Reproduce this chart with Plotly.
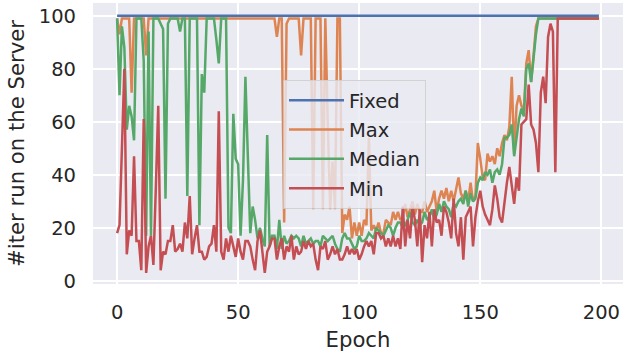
import plotly.graph_objects as go

epochs = list(range(200))

fixed_vals = [100] * 200

max_vals = (
    [99, 93, 99, 99, 99, 99, 71, 99, 99, 99,
     99, 99, 85] + [99] * 53 +            # 0..65
    [92, 99, 99, 22, 97, 99, 99, 99, 99, 99,   # 66..75
     85, 99, 99, 99, 99, 27, 99, 99, 99, 27,   # 76..85
     99, 60, 27, 45, 27, 99, 99, 18, 25,       # 86..94
     23, 28, 16, 22, 17, 22, 17, 23, 21, 54,   # 95..104
     19, 21, 19, 22, 18, 18, 23, 22, 21, 26,   # 105..114
     23, 26, 23, 24, 29, 24, 27, 30, 25, 29,   # 115..124
     26, 26, 30, 26, 28, 30, 34, 26, 31, 34,   # 125..134
     31, 35, 30, 34,                           # 135..138
     30, 35, 39, 33, 31, 34, 30, 37, 30, 32,   # 139..148
     52, 46, 39, 38, 48, 45, 47, 44, 50, 47,   # 149..158
     52, 55, 53, 58, 77, 48, 66, 70, 66, 64,   # 159..168
     82, 87, 75, 85, 96] + [99] * 26           # 169..199
)

median_vals = [
    99, 70, 96, 88, 57, 66, 62, 53, 99, 99,
    99, 83, 17, 94, 17, 99, 99, 99, 97, 95,
    31, 97, 99, 99, 99, 99, 94, 99, 99, 32,
    99, 99, 99, 99, 21, 78, 71, 99, 99, 99,
    99, 91, 82, 99, 99, 99, 20, 18, 63, 46,
    44, 17, 38, 77, 47, 18, 28, 23, 16, 20,
    16, 13, 55, 13, 17, 17, 12, 23, 12, 17,
    14, 15, 17, 16, 17, 16, 13, 17, 14, 15,
    16, 14, 15, 15, 13, 17, 16, 15, 16, 17,
    14, 12, 11, 16, 18, 16, 16, 14, 12, 13,
    17, 15, 15, 16, 18, 17, 16, 20, 19, 18,
    17, 19, 21, 20, 17, 20, 22, 22, 20, 21,
    23, 26, 22, 21, 23, 21, 22, 26, 23, 24,
    27, 23, 25, 29, 26, 30, 28, 27, 24, 29,
    28, 30, 31, 29, 34, 28, 33, 30, 31, 37,
    39, 38, 41, 40, 42, 37, 41, 42, 40, 44,
    54, 54, 55, 59, 47, 54, 61, 65, 62, 80,
    82, 75, 85, 93, 99, 99, 99, 99, 99, 99,
] + [99] * 20

min_vals = [
    18, 21, 50, 80, 10, 19, 17, 47, 15, 15,
    4, 61, 3, 13, 17, 6, 35, 66, 4, 11,
    10, 15, 15, 21, 11, 12, 14, 11, 22, 16,
    32, 10, 16, 21, 11, 11, 8, 9, 13, 14,
    21, 11, 64, 11, 8, 16, 11, 17, 13, 9,
    16, 11, 8, 15, 15, 13, 8, 4, 15, 19,
    11, 3, 11, 13, 16, 16, 8, 13, 16, 8,
    13, 11, 17, 8, 13, 10, 11, 15, 12, 15,
    13, 14, 8, 4, 13, 12, 15, 8, 10, 13,
    10, 12, 8, 8, 10, 13, 10, 12, 10, 12,
    8, 10, 13, 15, 13, 15, 10, 18, 18, 16,
    17, 13, 16, 13, 17, 13, 16, 12, 28, 13,
    23, 16, 28, 23, 13, 27, 7, 21, 16, 26,
    13, 27, 22, 23, 17, 28, 26, 22, 16, 31,
    18, 13, 24, 8, 24, 26, 28, 13, 24, 30,
    34, 28, 25, 23, 21, 27, 36, 31, 24, 22,
    30, 37, 43, 35, 29, 39, 34, 59, 60, 61,
    74, 59, 57, 52, 41, 71, 77, 67, 92, 97,
    94, 41,
] + [99] * 18

series_names = ["Fixed", "Max", "Median", "Min"]
series_colors = ["#4C72B0", "#DD8452", "#55A868", "#C44E52"]
series_data = [fixed_vals, max_vals, median_vals, min_vals]

x_ticks = [0, 50, 100, 150, 200]
y_ticks = [0, 20, 40, 60, 80, 100]

FONT = "DejaVu Sans"
TEXT = "#262626"
TICK_SIZE = 19.5
LABEL_SIZE = 21.2

fig = go.Figure()
for i, (name, color, vals) in enumerate(zip(series_names, series_colors, series_data)):
    fig.add_trace(go.Scatter(
        x=epochs, y=vals, mode="lines", name=name,
        line=dict(color=color, width=2.5),
        legendgroup=f"g{i}",
    ))

fig.update_layout(
    width=623, height=358,
    margin=dict(l=93, r=0, t=3, b=74),
    paper_bgcolor="white",
    plot_bgcolor="#EAEAF2",
    font=dict(family=FONT, size=TICK_SIZE, color=TEXT),
    showlegend=True,
    legend=dict(
        x=0.3585, y=0.726, xanchor="left", yanchor="top",
        bgcolor="rgba(234,234,242,0.8)",
        bordercolor="rgba(204,204,204,0.8)", borderwidth=1,
        font=dict(family=FONT, size=TICK_SIZE, color=TEXT),
        tracegroupgap=1,
        itemwidth=55,
    ),
    xaxis=dict(
        range=[-9.95, 208.95],
        tickvals=x_ticks,
        tickfont=dict(size=TICK_SIZE),
        showgrid=True, gridcolor="white", gridwidth=1.6,
        zeroline=False, showline=False,
        ticks="", ticklabelstandoff=14,
        title=dict(text="Epoch", font=dict(family=FONT, size=LABEL_SIZE, color=TEXT), standoff=9),
    ),
    yaxis=dict(
        range=[-1.2, 104.8],
        tickvals=y_ticks,
        tickfont=dict(size=TICK_SIZE),
        showgrid=True, gridcolor="white", gridwidth=1.6,
        zeroline=False, showline=False,
        ticks="", ticklabelstandoff=16,
        title=dict(text="#iter run on the Server", font=dict(family=FONT, size=LABEL_SIZE, color=TEXT), standoff=8),
    ),
)

fig.write_html("out.html")
